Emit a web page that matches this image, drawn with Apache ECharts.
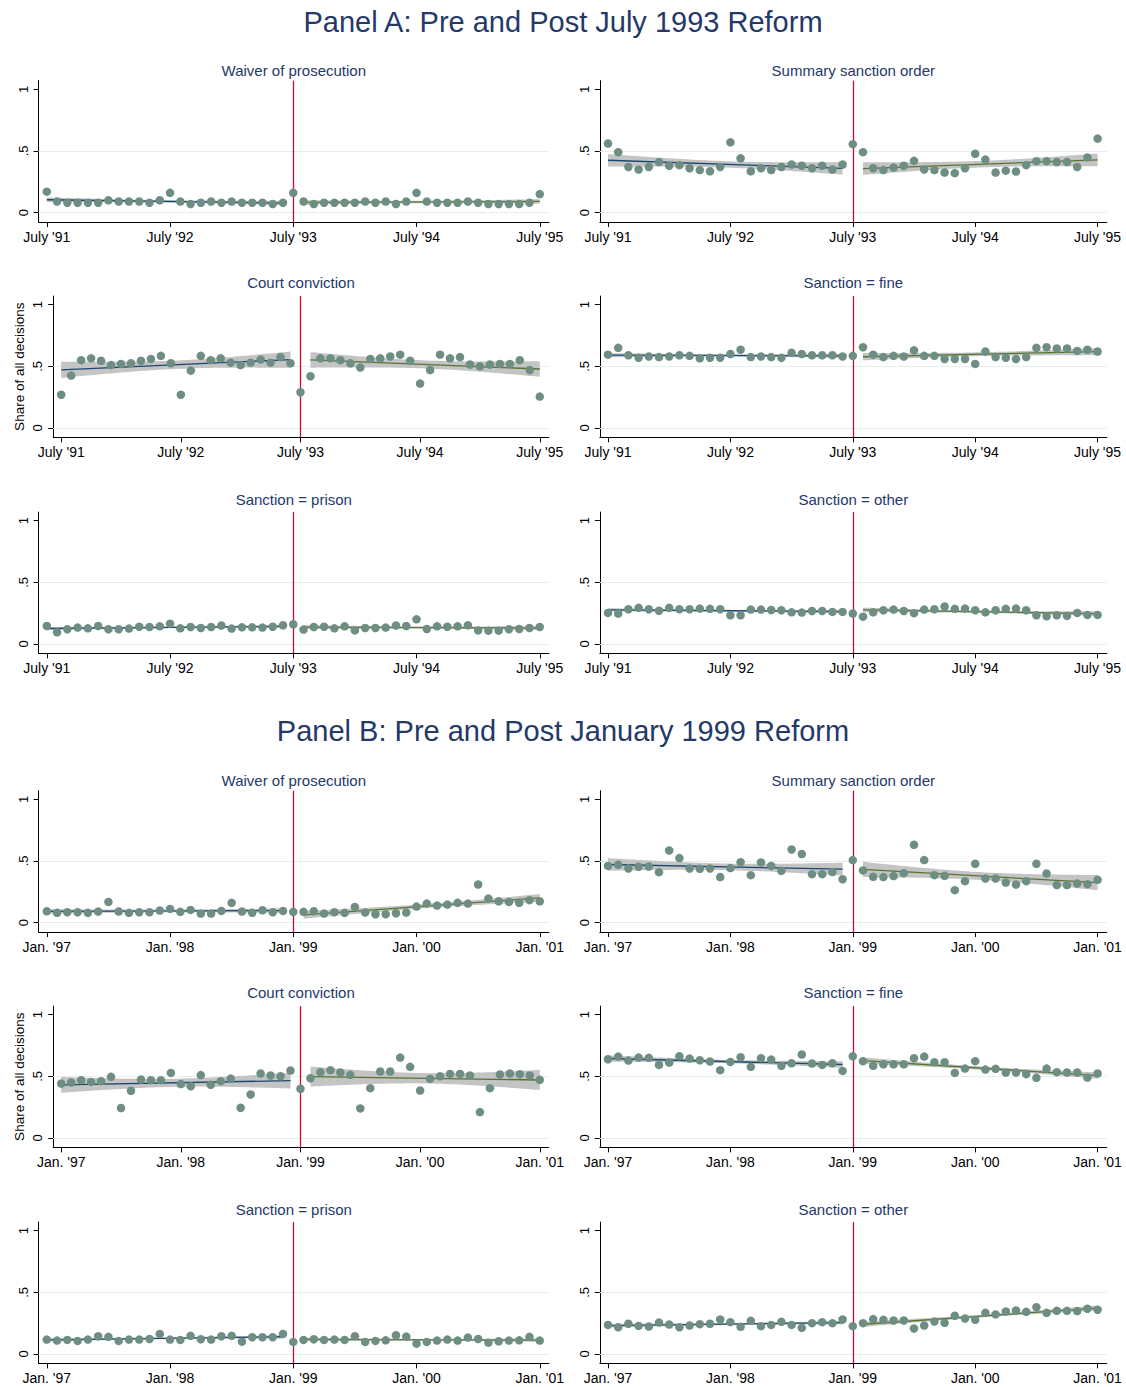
<!DOCTYPE html>
<html>
<head>
<meta charset="utf-8">
<script src="https://cdn.jsdelivr.net/npm/echarts@6/dist/echarts.min.js"></script>
<style>
html,body{margin:0;padding:0;background:#ffffff;}
#chart{width:1126px;height:1387px;}
</style>
</head>
<body>
<div id="chart"></div>
<script>
// ---------------- DATA ----------------
const panelTitles = ["Panel A: Pre and Post July 1993 Reform", "Panel B: Pre and Post January 1999 Reform"];
const subplotTitles = ["Waiver of prosecution", "Summary sanction order", "Court conviction", "Sanction = fine", "Sanction = prison", "Sanction = other"];
const yAxisTitle = "Share of all decisions";
const tickMonths = [0, 12, 24, 36, 48];
const tickLabelsA = ["July '91", "July '92", "July '93", "July '94", "July '95"];
const tickLabelsB = ["Jan. '97", "Jan. '98", "Jan. '99", "Jan. '00", "Jan. '01"];
const yTickValues = [0, 0.5, 1];
const yTickLabels = ["0", ".5", "1"];
const reformMonth = 24;
const preFitMonths = [0, 23];
const postFitMonths = [25, 48];

// monthly shares, month 0 .. 48 (Panel A: July '91 .. July '95)
const waiverA = [0.17,0.09,0.08,0.08,0.08,0.08,0.10,0.09,0.09,0.09,0.08,0.10,0.16,0.09,0.07,0.08,0.09,0.08,0.09,0.08,0.08,0.08,0.07,0.08,0.16,
  0.09,0.07,0.08,0.08,0.08,0.08,0.09,0.08,0.09,0.07,0.09,0.16,0.09,0.08,0.08,0.08,0.09,0.08,0.07,0.07,0.07,0.07,0.08,0.15];
const summaryA = [0.56,0.49,0.37,0.35,0.37,0.41,0.38,0.385,0.36,0.345,0.335,0.37,0.57,0.44,0.335,0.36,0.345,0.37,0.39,0.38,0.36,0.38,0.35,0.39,0.555,
  0.49,0.36,0.345,0.365,0.38,0.42,0.35,0.345,0.325,0.32,0.36,0.477,0.43,0.325,0.34,0.333,0.385,0.417,0.417,0.41,0.41,0.37,0.447,0.60];
const courtA = [0.27,0.425,0.55,0.565,0.545,0.51,0.52,0.525,0.545,0.56,0.585,0.525,0.27,0.465,0.585,0.55,0.565,0.53,0.51,0.53,0.555,0.53,0.575,0.525,0.29,
  0.42,0.565,0.565,0.55,0.525,0.49,0.56,0.565,0.58,0.595,0.545,0.36,0.47,0.595,0.565,0.575,0.515,0.50,0.515,0.52,0.52,0.55,0.47,0.255];
const fineA = [0.595,0.65,0.59,0.57,0.58,0.575,0.58,0.59,0.585,0.565,0.57,0.57,0.60,0.635,0.575,0.58,0.575,0.57,0.61,0.60,0.59,0.59,0.59,0.58,0.585,
  0.655,0.595,0.575,0.585,0.58,0.63,0.585,0.585,0.56,0.56,0.56,0.52,0.62,0.575,0.57,0.56,0.575,0.65,0.655,0.645,0.645,0.625,0.635,0.62];
const prisonA = [0.146,0.095,0.12,0.133,0.127,0.146,0.12,0.12,0.125,0.14,0.138,0.143,0.165,0.127,0.138,0.13,0.138,0.15,0.125,0.135,0.135,0.133,0.14,0.152,0.16,
  0.117,0.138,0.14,0.127,0.143,0.11,0.13,0.13,0.133,0.15,0.146,0.20,0.122,0.143,0.14,0.143,0.152,0.11,0.108,0.108,0.12,0.122,0.13,0.138];
const otherA = [0.252,0.247,0.282,0.293,0.282,0.27,0.293,0.282,0.282,0.287,0.285,0.282,0.233,0.233,0.279,0.279,0.276,0.274,0.257,0.255,0.268,0.268,0.26,0.26,0.247,
  0.222,0.257,0.274,0.279,0.268,0.25,0.279,0.282,0.304,0.285,0.287,0.274,0.257,0.274,0.285,0.287,0.274,0.233,0.225,0.233,0.228,0.252,0.236,0.236];

// Panel B: Jan. '97 .. Jan. '01
const waiverB = [0.092,0.079,0.084,0.084,0.079,0.09,0.168,0.09,0.079,0.084,0.084,0.098,0.111,0.087,0.103,0.073,0.073,0.095,0.16,0.09,0.079,0.1,0.084,0.095,0.087,
  0.087,0.092,0.073,0.084,0.079,0.127,0.081,0.068,0.068,0.076,0.081,0.13,0.154,0.138,0.146,0.16,0.154,0.309,0.195,0.173,0.168,0.16,0.182,0.173];
const summaryB = [0.46,0.469,0.439,0.453,0.455,0.409,0.585,0.523,0.439,0.436,0.439,0.369,0.442,0.49,0.385,0.488,0.46,0.42,0.593,0.556,0.393,0.393,0.41,0.352,0.507,
  0.423,0.371,0.369,0.377,0.401,0.631,0.507,0.385,0.379,0.263,0.336,0.477,0.358,0.358,0.325,0.309,0.336,0.477,0.398,0.304,0.304,0.317,0.312,0.347];
const courtB = [0.442,0.45,0.469,0.455,0.461,0.496,0.243,0.383,0.474,0.469,0.469,0.528,0.437,0.42,0.51,0.431,0.461,0.482,0.245,0.353,0.523,0.507,0.501,0.547,0.399,
  0.485,0.534,0.55,0.531,0.512,0.24,0.404,0.539,0.539,0.652,0.577,0.385,0.48,0.501,0.52,0.52,0.507,0.21,0.404,0.515,0.523,0.518,0.507,0.472];
const fineB = [0.639,0.66,0.628,0.652,0.65,0.593,0.612,0.663,0.644,0.631,0.62,0.55,0.617,0.655,0.577,0.647,0.636,0.585,0.606,0.677,0.604,0.593,0.606,0.544,0.663,
  0.623,0.585,0.598,0.598,0.598,0.647,0.66,0.615,0.615,0.528,0.563,0.623,0.555,0.561,0.531,0.531,0.518,0.488,0.563,0.534,0.531,0.531,0.49,0.523];
const prisonB = [0.117,0.109,0.114,0.106,0.117,0.144,0.139,0.106,0.117,0.117,0.122,0.163,0.117,0.114,0.147,0.12,0.117,0.144,0.147,0.1,0.136,0.136,0.136,0.163,0.098,
  0.114,0.12,0.114,0.117,0.114,0.144,0.098,0.106,0.111,0.152,0.141,0.084,0.098,0.109,0.117,0.109,0.133,0.122,0.092,0.103,0.109,0.111,0.139,0.109];
const otherB = [0.236,0.217,0.245,0.228,0.223,0.255,0.239,0.217,0.231,0.242,0.245,0.28,0.258,0.22,0.269,0.226,0.236,0.261,0.236,0.212,0.25,0.258,0.25,0.28,0.226,
  0.25,0.283,0.277,0.272,0.272,0.207,0.231,0.264,0.253,0.31,0.288,0.277,0.334,0.321,0.345,0.353,0.342,0.38,0.334,0.35,0.35,0.348,0.367,0.359];

// ---------------- STYLE / LAYOUT ----------------
const FONT = '"Liberation Sans", Arial, Helvetica, sans-serif';
const TITLE_COLOR = '#24386a';
const MARKER_COLOR = '#6e8e84';
const PRE_COLOR = '#1a476f';
const POST_COLOR = '#55752f';
const BAND_COLOR = '#c4c4c4';
const REFORM_COLOR = '#c8102e';
const GRIDLINE_COLOR = '#e5eeee';
const T975 = 2.0739; // t(0.975, df = 22)

const X_MIN = -0.8, X_MAX = 48.9, Y_MIN = -0.076, Y_MAX = 1.07;
const PX_PER_UNIT = 123.3;
const rowY1 = [89.3, 304.7, 520.7, 799.3, 1014.7, 1230.7];
const titleY = [70, 282.5, 499.3, 780, 992.5, 1209];
const panelTitleY = [22, 731];
const colLayout = {
  left:  { month0: 46.8, perMonth: 10.27 },
  court: { month0: 61.2, perMonth: 9.97 },
  right: { month0: 608,  perMonth: 10.2 }
};

const panels = [
  { labels: tickLabelsA, values: [waiverA, summaryA, courtA, fineA, prisonA, otherA] },
  { labels: tickLabelsB, values: [waiverB, summaryB, courtB, fineB, prisonB, otherB] }
];

function linfit(values, range) {
  const xs = [], ys = [];
  for (let x = range[0]; x <= range[1]; x++) { xs.push(x); ys.push(values[x]); }
  const n = xs.length;
  const xbar = xs.reduce((a, b) => a + b, 0) / n;
  const ybar = ys.reduce((a, b) => a + b, 0) / n;
  let sxx = 0, sxy = 0;
  for (let i = 0; i < n; i++) { sxx += (xs[i] - xbar) ** 2; sxy += (xs[i] - xbar) * (ys[i] - ybar); }
  const b = sxy / sxx, a = ybar - b * xbar;
  let sse = 0;
  for (let i = 0; i < n; i++) sse += (ys[i] - a - b * xs[i]) ** 2;
  const s = Math.sqrt(sse / (n - 2));
  return { a, b, s, n, xbar, sxx, x0: range[0], x1: range[1] };
}
function bandOf(f) {
  const up = [], lo = [];
  for (let x = f.x0; x <= f.x1 + 1e-9; x += 0.25) {
    const yh = f.a + f.b * x;
    const h = T975 * f.s * Math.sqrt(1 / f.n + (x - f.xbar) ** 2 / f.sxx);
    up.push([x, yh + h]); lo.push([x, yh - h]);
  }
  return { up, lo };
}

const grids = [], xAxes = [], yAxes = [], series = [], graphics = [];

panelTitles.forEach((t, p) => {
  graphics.push({
    type: 'text', x: 563, y: panelTitleY[p], silent: true,
    style: { text: t, fill: TITLE_COLOR, font: '29px ' + FONT, align: 'center', verticalAlign: 'middle', textAlign: 'center', textVerticalAlign: 'middle' }
  });
});

panels.forEach((panel, p) => {
  panel.values.forEach((vals, j) => {
    const gi = grids.length;
    const row = p * 3 + Math.floor(j / 2);
    const col = j % 2;
    const isCourt = j === 2;
    const lay = col === 1 ? colLayout.right : (isCourt ? colLayout.court : colLayout.left);
    const left = lay.month0 + X_MIN * lay.perMonth;
    const width = (X_MAX - X_MIN) * lay.perMonth;
    const top = rowY1[row] - (Y_MAX - 1) * PX_PER_UNIT;
    const height = (Y_MAX - Y_MIN) * PX_PER_UNIT;
    grids.push({ left: left, top: top, width: width, height: height, containLabel: false });

    graphics.push({
      type: 'text', x: left + width / 2, y: titleY[row], silent: true,
      style: { text: subplotTitles[j], fill: TITLE_COLOR, font: '15px ' + FONT, align: 'center', verticalAlign: 'middle', textAlign: 'center', textVerticalAlign: 'middle' }
    });

    const labels = panel.labels;
    xAxes.push({
      gridIndex: gi, type: 'value', min: X_MIN, max: X_MAX,
      axisLine: { show: true, onZero: false, lineStyle: { color: '#000', width: 1 } },
      axisTick: { show: true, customValues: tickMonths, length: 5, lineStyle: { color: '#000', width: 1 } },
      axisLabel: { show: true, customValues: tickMonths, formatter: v => labels[tickMonths.indexOf(v)],
        fontSize: 14, fontFamily: FONT, color: '#000', margin: 8 },
      splitLine: { show: false }
    });
    yAxes.push({
      gridIndex: gi, type: 'value', min: Y_MIN, max: Y_MAX,
      name: isCourt ? yAxisTitle : '', nameLocation: 'middle', nameRotate: 90, nameGap: 27,
      nameTextStyle: { fontSize: 13.5, fontFamily: FONT, color: '#000' },
      axisLine: { show: true, onZero: false, lineStyle: { color: '#000', width: 1 } },
      axisTick: { show: true, customValues: yTickValues, length: 5, lineStyle: { color: '#000', width: 1 } },
      axisLabel: { show: true, customValues: yTickValues, rotate: 90, formatter: v => yTickLabels[yTickValues.indexOf(v)],
        fontSize: 13, fontFamily: FONT, color: '#000', margin: 9 },
      splitLine: { show: false }
    });

    // reference lines: gridlines at 0 and .5, reform month
    series.push({
      type: 'line', xAxisIndex: gi, yAxisIndex: gi, data: [], silent: true, z: 1,
      markLine: {
        silent: true, symbol: ['none', 'none'], label: { show: false }, animation: false, z: 1,
        emphasis: { disabled: true },
        data: [
          { yAxis: yTickValues[0], lineStyle: { color: GRIDLINE_COLOR, width: 1, type: 'solid' } },
          { yAxis: yTickValues[1], lineStyle: { color: GRIDLINE_COLOR, width: 1, type: 'solid' } },
          { xAxis: reformMonth, lineStyle: { color: REFORM_COLOR, width: 1.3, type: 'solid' } }
        ]
      }
    });

    [[preFitMonths, PRE_COLOR], [postFitMonths, POST_COLOR]].forEach(([range, color]) => {
      const f = linfit(vals, range);
      const band = bandOf(f);
      series.push({
        type: 'custom', xAxisIndex: gi, yAxisIndex: gi, silent: true, z: 2,
        data: [[range[0], f.a + f.b * range[0]]],
        renderItem: (params, api) => {
          const pts = band.up.map(pt => api.coord(pt)).concat(band.lo.slice().reverse().map(pt => api.coord(pt)));
          return { type: 'polygon', shape: { points: pts }, style: { fill: BAND_COLOR } };
        }
      });
      series.push({
        type: 'line', xAxisIndex: gi, yAxisIndex: gi, silent: true, z: 3,
        symbol: 'none', lineStyle: { color: color, width: 1.3 },
        data: [[range[0], f.a + f.b * range[0]], [range[1], f.a + f.b * range[1]]]
      });
    });

    series.push({
      type: 'scatter', xAxisIndex: gi, yAxisIndex: gi, silent: true, z: 4,
      symbol: 'circle', symbolSize: 8.5,
      itemStyle: { color: MARKER_COLOR, opacity: 1, borderWidth: 0 },
      data: vals.map((v, i) => [i, v])
    });
  });
});

const chart = echarts.init(document.getElementById('chart'), null, { renderer: 'svg' });
chart.setOption({
  backgroundColor: '#ffffff',
  animation: false,
  textStyle: { fontFamily: FONT },
  grid: grids,
  xAxis: xAxes,
  yAxis: yAxes,
  series: series,
  graphic: { elements: graphics }
});
</script>
</body>
</html>
